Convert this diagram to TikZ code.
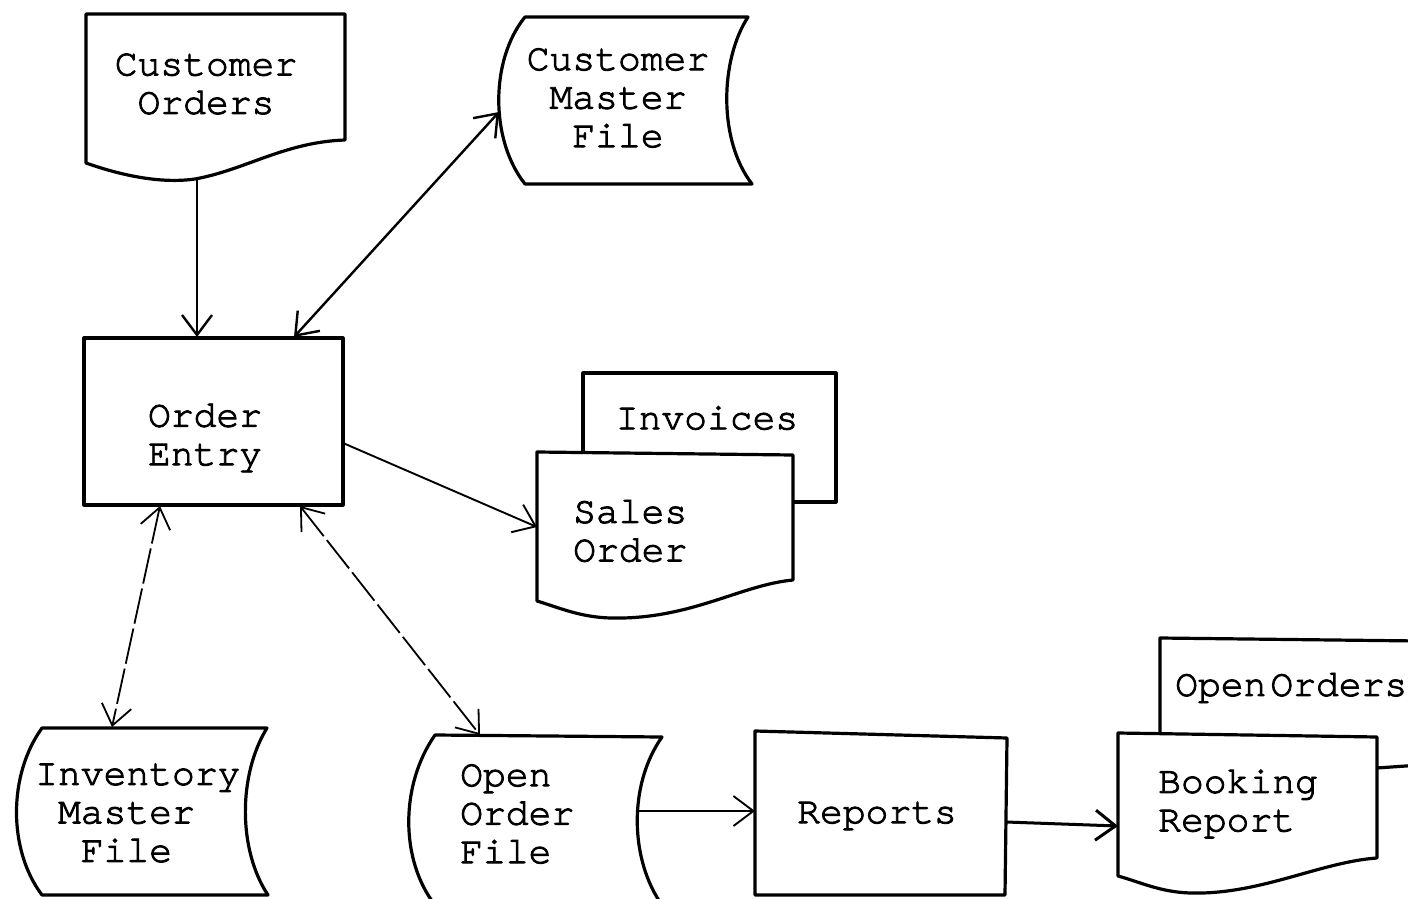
\documentclass[tikz,border=0pt]{standalone}
\usepackage{fontspec}
\setmonofont[FakeBold=2.4]{TeX Gyre Cursor}
\usetikzlibrary{arrows.meta}
\begin{document}
\begin{tikzpicture}[x=1pt,y=-1pt,
  shape line/.style={line width=3.2pt, line join=round, fill=white},
  lbl/.style={font=\fontsize{38}{38.5}\selectfont\ttfamily, inner sep=0pt},
  flow/.style={line width=2.4pt, -{Straight Barb[length=20pt,width=30pt]}},
  dflow/.style={line width=1.8pt, dash pattern=on 36pt off 5pt,
     {Straight Barb[length=20pt,width=30pt]}-{Straight Barb[length=20pt,width=30pt]}},
  bflow/.style={line width=2.4pt,
     {Straight Barb[length=20pt,width=30pt]}-{Straight Barb[length=20pt,width=30pt]}}]
\useasboundingbox (0,0) rectangle (1408,899);
\clip (0,0) rectangle (1408,899);

% Customer Orders (document)
\draw[shape line] (86,14) -- (345,14) -- (345,140)
  .. controls (285,142) and (245,170) .. (195,179)
  .. controls (160,184) and (120,175) .. (86,163) -- cycle;
\node[lbl, align=center] (co) at (206,84) {Customer\\Orders};

% Customer Master File (stored data)
\draw[shape line] (525,17) -- (748,17) .. controls (720,60) and (718,140) .. (752,184)
  -- (525,184) .. controls (490,140) and (490,60) .. (525,17) -- cycle;
\node[lbl, align=center] (cmf) at (618,98) {Customer\\Master\\File};

% Order Entry (process)
\draw[shape line] (84,338) rectangle (343,505);
\node[lbl, align=center] (oe) at (205,438) {Order\\Entry};

% Invoices (behind Sales Order)
\draw[shape line] (583,373) rectangle (836,502);
\node[lbl] (inv) at (707,418) {Invoices};

% Sales Order (document)
\draw[shape line] (537,452) -- (793,455) -- (793,580)
  .. controls (740,585) and (690,620) .. (610,618)
  .. controls (580,617) and (560,608) .. (537,601) -- cycle;
\node[lbl, align=left, anchor=west] (so) at (573,531) {Sales\\Order};

% Inventory Master File (stored data)
\draw[shape line] (42,728) -- (267,728) .. controls (238,775) and (238,850) .. (268,895)
  -- (42,895) .. controls (8,850) and (8,775) .. (42,728) -- cycle;
\node[lbl, align=left, anchor=west] (imf) at (35,813) {Inventory\\~Master\\~~File};

% Open Order File (stored data)
\draw[shape line] (435,735) -- (662,737) .. controls (628,785) and (630,860) .. (662,905)
  -- (435,905) .. controls (400,860) and (400,785) .. (435,735) -- cycle;
\node[lbl, align=left, anchor=west] (oof) at (460,814) {Open\\Order\\File};

% Reports (process)
\draw[shape line] (755,731) -- (1007,738) -- (1005,895) -- (755,895) -- cycle;
\node[lbl] (rep) at (877,816) {Reports};

% Open Orders (behind Booking Report; its lower edge shows on the right)
\draw[shape line] (1160,638) -- (1420,641) -- (1420,765) -- (1377,768) -- (1160,770) -- cycle;
\node[lbl, anchor=west] (oo) at (1175,688) {\spaceskip=4pt Open Orders};

% Booking Report (document)
\draw[shape line] (1118,733) -- (1377,737) -- (1377,858)
  .. controls (1320,862) and (1260,895) .. (1190,893)
  .. controls (1160,892) and (1140,882) .. (1118,876) -- cycle;
\node[lbl, align=left, anchor=west] (br) at (1158,804) {Booking\\Report};

% connector end points
\coordinate (coB) at (197,180);
\coordinate (oeT1) at (197,337);
\coordinate (cmfL) at (499,112);
\coordinate (oeT2) at (294,337);
\coordinate (oeR) at (343,443);
\coordinate (soL) at (537,527);
\coordinate (oeB1) at (160,506);
\coordinate (imfT) at (112,727);
\coordinate (oeB2) at (300,506);
\coordinate (oofT) at (480,735);
\coordinate (oofR) at (637,811);
\coordinate (repL) at (755,811);
\coordinate (repR) at (1006,822);
\coordinate (brL) at (1118,826);

% connectors
\draw[flow] (coB) -- (oeT1);
\draw[bflow] (cmfL) -- (oeT2);
\draw[flow, line width=1.9pt] (oeR) -- (soL);
\draw[dflow] (oeB1) -- (imfT);
\draw[dflow] (oeB2) -- (oofT);
\draw[flow, line width=1.9pt] (oofR) -- (repL);
\draw[flow, line width=3pt] (repR) -- (brL);
\end{tikzpicture}
\end{document}
